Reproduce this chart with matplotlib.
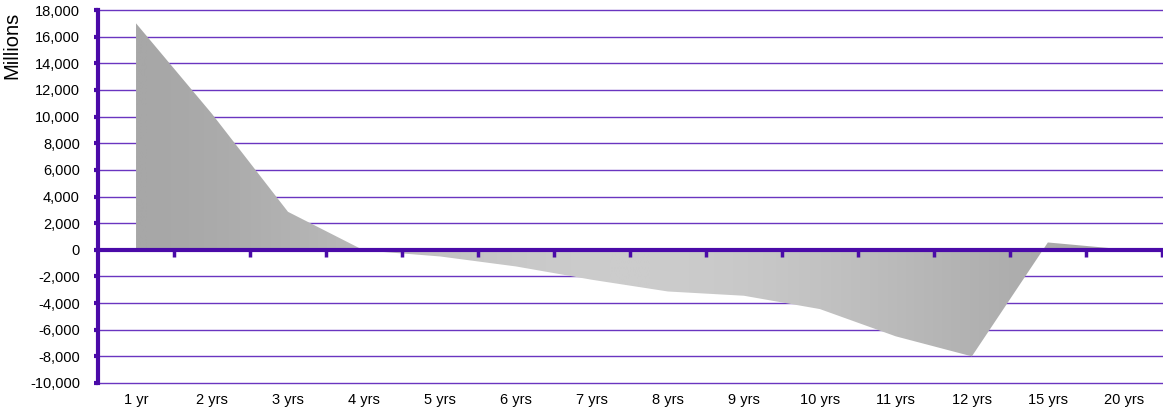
import numpy as np
import matplotlib
matplotlib.use('Agg')
import matplotlib.pyplot as plt
from matplotlib.colors import LinearSegmentedColormap

plt.rcParams['font.family'] = ['Liberation Sans', 'DejaVu Sans']

# 数据
periods = ['1 yr', '2 yrs', '3 yrs', '4 yrs', '5 yrs', '6 yrs', '7 yrs',
           '8 yrs', '9 yrs', '10 yrs', '11 yrs', '12 yrs', '15 yrs', '20 yrs']
gap = [17000, 10200, 2850, -50, -500, -1250, -2250,
       -3130, -3450, -4450, -6500, -8000, 550, 30]
y_ticks = list(range(-10000, 18001, 2000))

purple = '#4a0aa8'
grid_purple = '#6a35c0'

fig = plt.figure(figsize=(11.63, 4.12), dpi=100)
ax = fig.add_axes([0.0843, 0.0704, 0.9147, 0.9053])

x = np.arange(len(periods))
ax.set_xlim(-0.5, len(periods) - 0.5)
ax.set_ylim(-10000, 18000)

# 网格线
for v in y_ticks:
    ax.axhline(v, color=grid_purple, lw=1.0, zorder=1, clip_on=False)

# 面积图 + 水平渐变填充（两端深、中间浅）
poly = ax.fill_between(x, 0, gap, color='none', lw=0, zorder=2)
t = np.linspace(0, 1, 512)
shade = (np.sin(np.pi * t) ** 1.6)[None, :]
cmap = LinearSegmentedColormap.from_list('grey_grad', ['#a7a7a7', '#cccccc'])
im = ax.imshow(shade, cmap=cmap, vmin=0, vmax=1, aspect='auto',
               extent=[x[0], x[-1], -10000, 18000], zorder=2,
               interpolation='bilinear')
path = poly.get_paths()[0]
im.set_clip_path(path, transform=ax.transData)

# 坐标轴
for s in ['top', 'right', 'bottom']:
    ax.spines[s].set_visible(False)
ax.spines['left'].set_color(purple)
ax.spines['left'].set_linewidth(3)
ax.spines['left'].set_zorder(4)
ax.axhline(0, color=purple, lw=3, zorder=4, clip_on=False)

ax.set_yticks(y_ticks)
ax.set_yticklabels([f'{v:,}' for v in y_ticks])
ax.tick_params(axis='y', colors=purple, length=3, width=3, labelsize=10.5,
               labelcolor='black', pad=10)

# 类别边界处的刻度（向下）
bounds = np.arange(0.5, len(periods), 1.0)
ax.plot(bounds, np.zeros_like(bounds), ls='none', marker=3, ms=5, mew=2.5,
        color=purple, zorder=4, clip_on=False)
ax.set_xticks([])

sec = ax.secondary_xaxis('bottom')
sec.set_xticks(x)
sec.set_xticklabels(periods)
sec.tick_params(length=0, labelsize=10.5, pad=7)
sec.spines['bottom'].set_visible(False)

ax.set_ylabel('Millions', fontsize=14.5)
ax.yaxis.set_label_coords(-0.072, 0.905)

fig.savefig('out.png', dpi=100)
